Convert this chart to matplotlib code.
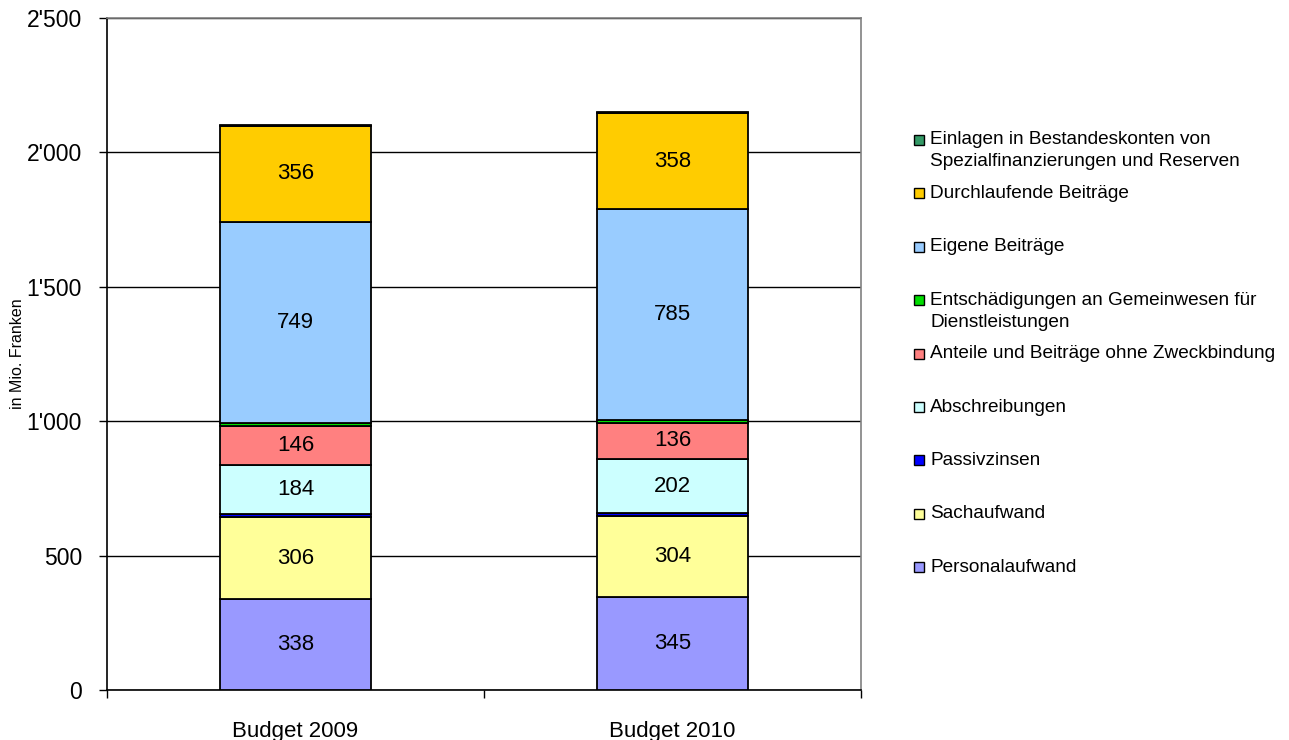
import numpy as np
import matplotlib.pyplot as plt
from matplotlib.patches import Rectangle
from matplotlib.ticker import FuncFormatter

plt.rcParams['font.family'] = ['Liberation Sans', 'DejaVu Sans']

# Daten (in Mio. Franken), von unten nach oben gestapelt
kategorien = ["Budget 2009", "Budget 2010"]
serien = [
    "Personalaufwand",
    "Sachaufwand",
    "Passivzinsen",
    "Abschreibungen",
    "Anteile und Beiträge ohne Zweckbindung",
    "Entschädigungen an Gemeinwesen für\nDienstleistungen",
    "Eigene Beiträge",
    "Durchlaufende Beiträge",
    "Einlagen in Bestandeskonten von\nSpezialfinanzierungen und Reserven",
]
werte_2009 = [338, 306, 10, 184, 146, 9, 749, 356, 5]
werte_2010 = [345, 304, 8, 202, 136, 8, 785, 358, 6]
farben = ["#9999FF", "#FFFF99", "#0000FF", "#CCFFFF", "#FF8080",
          "#00DD00", "#99CCFF", "#FFCC00", "#339966"]

fig = plt.figure(figsize=(12.89, 7.4), dpi=100)
ax = fig.add_axes([107 / 1289, 1 - 690 / 740, (861 - 107) / 1289, (690 - 18) / 740])

x = np.arange(len(kategorien))
unten = np.zeros(len(kategorien))
for i, name in enumerate(serien):
    h = np.array([werte_2009[i], werte_2010[i]])
    bars = ax.bar(x, h, width=0.4, bottom=unten, color=farben[i],
                  edgecolor='black', linewidth=1.3, zorder=3)
    labels = [str(v) if v >= 50 else '' for v in h]
    ax.bar_label(bars, labels=labels, label_type='center', fontsize=16)
    unten += h

ax.set_xlim(-0.5, 1.5)
ax.set_ylim(0, 2500)
ax.set_yticks(np.arange(0, 2501, 500))
ax.yaxis.set_major_formatter(FuncFormatter(lambda v, p: f"{int(v):,}".replace(",", "'")))
ax.yaxis.grid(True, color='black', linewidth=1, zorder=0)
ax.set_axisbelow(True)

ax.set_xticks(x)
ax.set_xticklabels(kategorien)
ax.set_xticks([-0.5, 0.5, 1.5], minor=True)
ax.tick_params(axis='x', which='major', length=0, pad=22, labelsize=16)
ax.tick_params(axis='x', which='minor', length=6, width=1, direction='out')
ax.tick_params(axis='y', length=6, width=1, direction='out', labelsize=16.5, pad=12)

ax.spines['left'].set_color('black')
ax.spines['bottom'].set_color('black')
ax.spines['top'].set_color('#808080')
ax.spines['right'].set_color('#808080')
for s in ax.spines.values():
    s.set_linewidth(1.2)

ax.set_ylabel("in Mio. Franken", fontsize=11.5, labelpad=1)

# Legende (oberster Eintrag = oberstes Segment)
W, H = 1289, 740
for k, name in enumerate(serien[::-1]):
    col = farben[::-1][k]
    yc = 140 + 53.4 * k
    fig.patches.append(Rectangle(((914) / W, 1 - (yc + 5) / H), 10 / W, 10 / H,
                                 transform=fig.transFigure, facecolor=col,
                                 edgecolor='black', linewidth=1))
    for j, zeile in enumerate(name.split("\n")):
        fig.text(930 / W, 1 - (yc + 22 * j) / H, zeile, fontsize=13.7,
                 va='center', ha='left')

fig.savefig("out.png", dpi=100)
